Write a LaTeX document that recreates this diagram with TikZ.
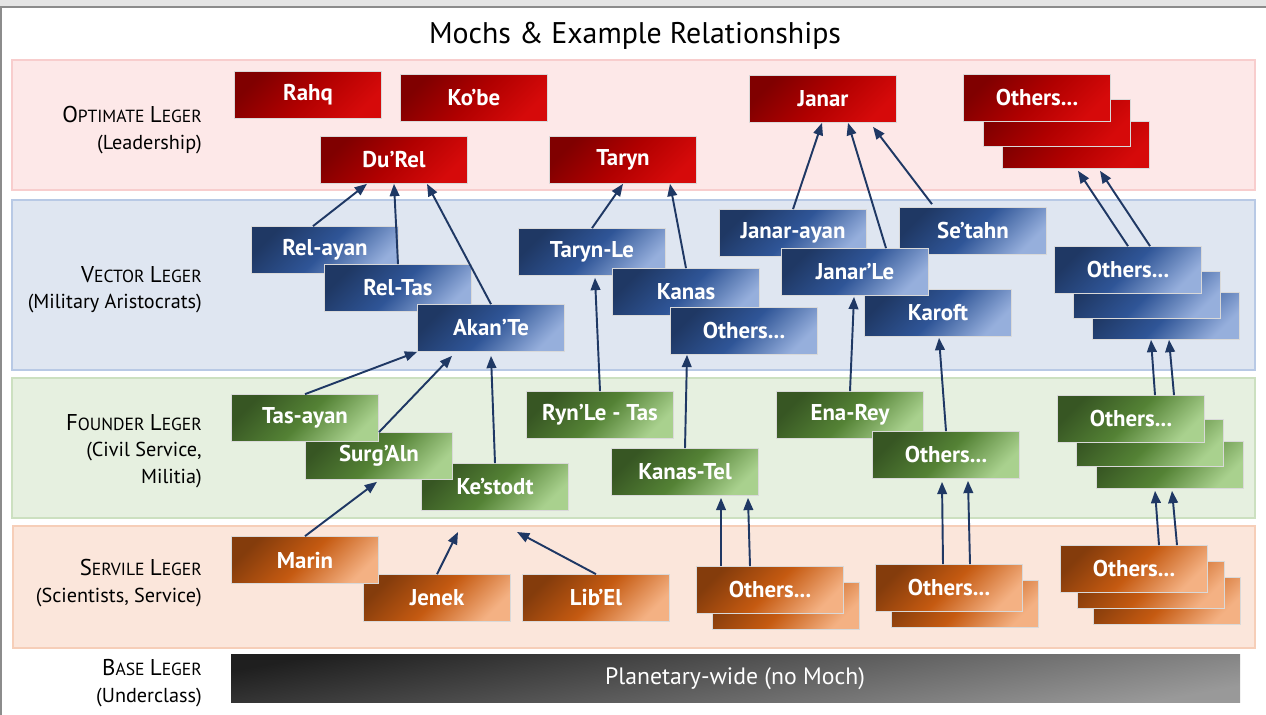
\documentclass[tikz,border=0pt]{standalone}
\usepackage{fontspec}
\setmainfont{PT Sans}
\usetikzlibrary{arrows.meta,calc}

\definecolor{optDark}{RGB}{128,0,0}
\definecolor{optMid}{RGB}{176,0,0}
\definecolor{optLight}{RGB}{214,10,10}
\definecolor{vecDark}{RGB}{31,56,100}
\definecolor{vecMid}{RGB}{47,85,151}
\definecolor{vecLight}{RGB}{150,175,220}
\definecolor{fndDark}{RGB}{55,86,35}
\definecolor{fndMid}{RGB}{84,130,53}
\definecolor{fndLight}{RGB}{169,209,142}
\definecolor{srvDark}{RGB}{132,60,12}
\definecolor{srvMid}{RGB}{197,90,17}
\definecolor{srvLight}{RGB}{244,177,131}
\definecolor{linkBlue}{RGB}{31,56,100}

\newcommand\legsc[2]{{\fontsize{13}{15}\selectfont #1}{\fontsize{10}{12}\selectfont #2}}

\tikzset{
    moch/.style={minimum width=2.94cm, minimum height=0.94cm, inner sep=0pt,
        text=white, font=\bfseries\fontsize{13}{15}\selectfont,
        draw=white!70!gray, line width=0.4pt},
    optbox/.style={moch, top color=optDark, bottom color=optLight, middle color=optMid, shading angle=45},
    vecbox/.style={moch, top color=vecDark, bottom color=vecLight, middle color=vecMid, shading angle=45},
    fndbox/.style={moch, top color=fndDark, bottom color=fndLight, middle color=fndMid, shading angle=45},
    srvbox/.style={moch, top color=srvDark, bottom color=srvLight, middle color=srvMid, shading angle=45},
    link/.style={draw=linkBlue, line width=1.1pt, -{Triangle[length=7pt,width=5.5pt]}},
    leger/.style={anchor=east, align=right, font=\fontsize{11.5}{15}\selectfont}
}

\begin{document}
\begin{tikzpicture}[x=0.02cm, y=-0.02cm]
    \useasboundingbox (0,0) rectangle (1266,715);
    \def\optband{(12,60) rectangle (1255,190)}
    \def\vecband{(12,200) rectangle (1255,370)}
    \def\fndband{(12,378) rectangle (1255,518)}
    \def\srvband{(13,526) rectangle (1255,648)}

    % frame
    \fill[black!10] (0,0) rectangle (1266,6);
    \draw[black!45, line width=1.2pt] (0,7) -- (1266,7);
    \draw[black!45, line width=1.2pt] (1,7) -- (1,715);

    \node[font=\fontsize{17}{20}\selectfont] (title) at (635,36) {Mochs \& Example Relationships};

    % bands
    \filldraw[fill={rgb,255:red,253;green,232;blue,232}, draw={rgb,255:red,248;green,205;blue,205}, line width=0.8pt] \optband;
    \filldraw[fill={rgb,255:red,223;green,230;blue,241}, draw={rgb,255:red,184;green,201;blue,229}, line width=0.8pt] \vecband;
    \filldraw[fill={rgb,255:red,230;green,240;blue,224}, draw={rgb,255:red,204;green,224;blue,192}, line width=0.8pt] \fndband;
    \filldraw[fill={rgb,255:red,251;green,230;blue,219}, draw={rgb,255:red,246;green,206;blue,184}, line width=0.8pt] \srvband;
    \shade[top color=black!88, bottom color=black!40, shading angle=10] (231,654) rectangle (1240,702);

    % leger labels
    \node[leger] (optlab) at (208,130) {\legsc{O}{PTIMATE} \legsc{L}{EGER}\\(Leadership)};
    \node[leger] (veclab) at (208,290) {\legsc{V}{ECTOR} \legsc{L}{EGER}\\(Military Aristocrats)};
    \node[leger] (fndlab) at (208,451) {\legsc{F}{OUNDER} \legsc{L}{EGER}\\(Civil Service,\\Militia)};
    \node[leger] (srvlab) at (208,583) {\legsc{S}{ERVILE} \legsc{L}{EGER}\\(Scientists, Service)};
    \node[leger] (baselab) at (208,683) {\legsc{B}{ASE} \legsc{L}{EGER}\\(Underclass)};
    \node[text=white, font=\fontsize{13.5}{15}\selectfont] (base) at (735,679) {Planetary-wide (no Moch)};

    % optimate
    \node[optbox] (rahq) at (308,95) {Rahq};
    \node[optbox] (kobe) at (474,98) {Ko'be};
    \node[optbox] (durel) at (394,160) {Du'Rel};
    \node[optbox] (taryn) at (623,160) {Taryn};
    \node[optbox] (janar) at (823,99) {Janar};
    \node[optbox] (optC) at (1076,145) {};
    \node[optbox] (optB) at (1057,123) {};
    \node[optbox] (optA) at (1037,98) {Others...};

    % vector
    \node[vecbox] (relayan) at (325,250) {Rel-ayan};
    \node[vecbox] (reltas) at (398,288) {Rel-Tas};
    \node[vecbox] (akante) at (491,328) {Akan'Te};
    \node[vecbox] (tarynle) at (592,252) {Taryn-Le};
    \node[vecbox] (kanas) at (686,292) {Kanas};
    \node[vecbox] (vecoth) at (744,331) {Others...};
    \node[vecbox] (janarayan) at (793,233) {Janar-ayan};
    \node[vecbox] (setahn) at (973,231) {Se'tahn};
    \node[vecbox] (karoft) at (938,313) {Karoft};
    \node[vecbox] (janarle) at (855,272) {Janar'Le};
    \node[vecbox] (vecC) at (1166,316) {};
    \node[vecbox] (vecB) at (1147,295) {};
    \node[vecbox] (vecA) at (1128,270) {Others...};

    % founder
    \node[fndbox] (kestodt) at (495,487) {Ke'stodt};
    \node[fndbox] (surgaln) at (379,456) {Surg'Aln};
    \node[fndbox] (tasayan) at (305,418) {Tas-ayan};
    \node[fndbox] (rynle) at (600,415) {Ryn'Le - Tas};
    \node[fndbox] (kanastel) at (685,472) {Kanas-Tel};
    \node[fndbox] (enarey) at (850,415) {Ena-Rey};
    \node[fndbox] (fndoth) at (946,455) {Others...};
    \node[fndbox] (fndC) at (1170,465) {};
    \node[fndbox] (fndB) at (1150,443) {};
    \node[fndbox] (fndA) at (1131,419) {Others...};

    % servile
    \node[srvbox] (jenek) at (437,598) {Jenek};
    \node[srvbox] (marin) at (305,560) {Marin};
    \node[srvbox] (libel) at (596,598) {Lib'El};
    \node[srvbox] (srvA2) at (786,606) {};
    \node[srvbox] (srvA) at (770,590) {Others...};
    \node[srvbox] (srvB2) at (965,604) {};
    \node[srvbox] (srvB) at (949,588) {Others...};
    \node[srvbox] (srvC3) at (1167,601) {};
    \node[srvbox] (srvC2) at (1151,585) {};
    \node[srvbox] (srvC) at (1134,569) {Others...};

    \coordinate (jenekend) at (458,532);
    \coordinate (libelend) at (517,532);

    % links
    \draw[link] ($(relayan.north)+(-12,0)$) -- ($(durel.south)+(-27,0)$);
    \draw[link] (reltas.north) -- (durel.south);
    \draw[link] (akante.north) -- ($(durel.south)+(33,0)$);
    \draw[link] (tarynle.north) -- (taryn.south);
    \draw[link] (kanas.north) -- ($(taryn.south)+(47,0)$);
    \draw[link] (janarayan.north) -- ($(janar.south)+(-1,0)$);
    \draw[link] ($(janarle.north)+(31,0)$) -- ($(janar.south)+(25,0)$);
    \draw[link] ($(setahn.north)+(-41,-3)$) -- ($(janar.south)+(50,4)$);
    \draw[link] (vecA.north) -- ($(optC.south)+(2,2)$);
    \draw[link] ($(vecA.north)+(22,0)$) -- ($(optC.south)+(24,2)$);

    \draw[link] (tasayan.north) -- (akante.south west);
    \draw[link] (surgaln.north) -- ($(akante.south)+(-39,4)$);
    \draw[link] (kestodt.north) -- ($(akante.south)+(0,4)$);
    \draw[link] (rynle.north) -- ($(tarynle.south)+(3,2)$);
    \draw[link] (kanastel.north) -- ($(vecoth.south)+(-57,0)$);
    \draw[link] (enarey.north) -- ($(janarle.south)+(-1,1)$);
    \draw[link] (fndoth.north) -- ($(karoft.south)+(1,1)$);
    \draw[link] ($(fndA.north)+(24,0)$) -- ($(vecC.south)+(-15,0)$);
    \draw[link] ($(fndA.north)+(43,0)$) -- ($(vecC.south)+(3,0)$);

    \draw[link] (marin.north) -- ($(surgaln.south)+(-2,2)$);
    \draw[link] (jenek.north) -- (jenekend);
    \draw[link] (libel.north) -- (libelend);
    \draw[link] ($(srvA.north)+(-49,0)$) -- ($(kanastel.south)+(36,2)$);
    \draw[link] ($(srvA.north)+(-20,0)$) -- ($(kanastel.south)+(63,2)$);
    \draw[link] ($(srvB.north)+(-6,0)$) -- ($(fndoth.south)+(-4,3)$);
    \draw[link] ($(srvB.north)+(21,0)$) -- ($(fndoth.south)+(22,2)$);
    \draw[link] ($(srvC.north)+(25,0)$) -- ($(fndC.south)+(-15,2)$);
    \draw[link] ($(srvC.north)+(43,0)$) -- ($(fndC.south)+(2,2)$);
\end{tikzpicture}
\end{document}
